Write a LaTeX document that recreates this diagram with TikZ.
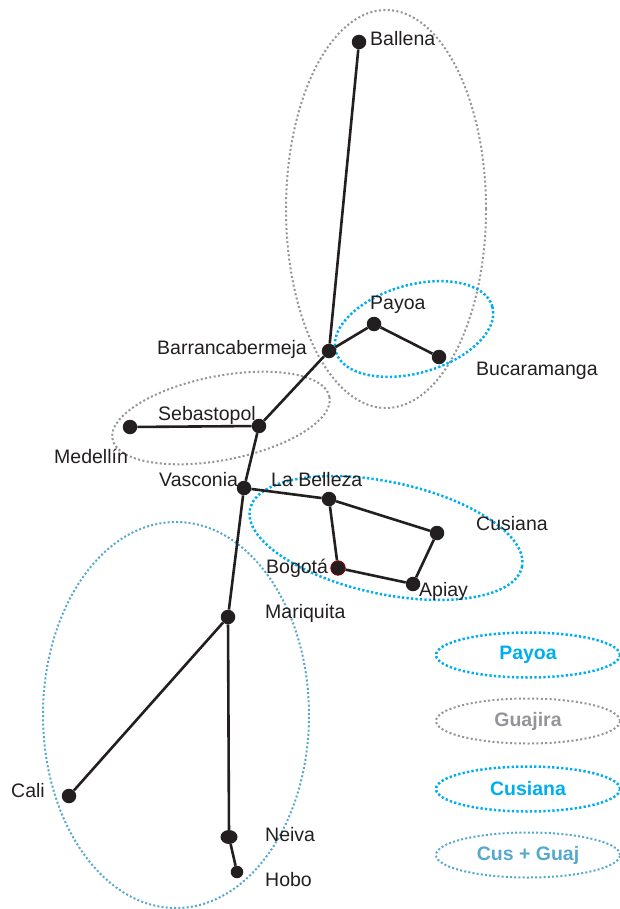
\documentclass[tikz,border=0pt]{standalone}
\usepackage{fontspec}
\setmainfont{Liberation Sans}
\usetikzlibrary{shapes.geometric}
\definecolor{cyanP}{RGB}{0,174,239}
\definecolor{grayG}{RGB}{147,149,152}
\definecolor{blueCG}{RGB}{86,168,204}
\definecolor{nodeblk}{RGB}{35,31,32}
\tikzset{
  city/.style={circle, fill=nodeblk, inner sep=0pt, minimum size=14.5pt},
  lbl/.style={anchor=base west, inner sep=0pt, text=nodeblk, font=\fontsize{19.5}{23}\selectfont},
  lblr/.style={anchor=base east, inner sep=0pt, text=nodeblk, font=\fontsize{19.5}{23}\selectfont},
  link/.style={line width=2.6pt, draw=nodeblk},
  cyandots/.style={draw=cyanP, line width=2.5pt, dash pattern=on 2.3pt off 2.2pt},
  graydots/.style={draw=grayG, line width=2pt, dash pattern=on 2pt off 2.4pt},
  bluedots/.style={draw=blueCG, line width=2pt, dash pattern=on 2pt off 2.2pt},
  legend/.style={ellipse, inner sep=0pt, minimum width=184pt, minimum height=45pt,
    font=\bfseries\fontsize{19.5}{23}\selectfont},
}
\begin{document}
\begin{tikzpicture}[x=1pt,y=-1pt]
\useasboundingbox (0,0) rectangle (620,909);
% region ellipses
\draw[graydots, shift={(386,209)}] (0,0) ellipse [x radius=100pt, y radius=199pt];
\draw[cyandots, shift={(414,329)}, rotate=16] (0,0) ellipse [x radius=81.5pt, y radius=44pt];
\draw[graydots, shift={(221,418)}, rotate=11] (0,0) ellipse [x radius=110.5pt, y radius=42pt];
\draw[cyandots, shift={(386,538)}, rotate=-12] (0,0) ellipse [x radius=139pt, y radius=56pt];
\draw[bluedots, shift={(176,715)}] (0,0) ellipse [x radius=133pt, y radius=193pt];
% cities
\node[city] (ballena) at (359,42) {};
\node[city] (payoa) at (374,324) {};
\node[city] (bucaramanga) at (439,357) {};
\node[city] (barranca) at (329,351) {};
\node[city] (sebastopol) at (259,426) {};
\node[city] (medellin) at (130,427) {};
\node[city] (vasconia) at (244,488) {};
\node[city] (labelleza) at (329,499) {};
\node[city] (cusiana) at (437,533) {};
\node[city, draw=red!55!black, line width=0.8pt] (bogota) at (338,568) {};
\node[city] (apiay) at (413,584) {};
\node[city] (mariquita) at (228,617) {};
\node[city] (cali) at (69,796) {};
\node[city, ellipse, minimum width=17pt, minimum height=14pt] (neiva) at (229,837) {};
\node[city, minimum size=12.5pt] (hobo) at (237,872) {};
% links
\draw[link] (ballena) -- (barranca);
\draw[link] (barranca) -- (payoa);
\draw[link] (payoa) -- (bucaramanga);
\draw[link] (barranca) -- (sebastopol);
\draw[link] (sebastopol) -- (medellin);
\draw[link] (sebastopol) -- (vasconia);
\draw[link] (vasconia) -- (labelleza);
\draw[link] (labelleza) -- (cusiana);
\draw[link] (labelleza) -- (bogota);
\draw[link] (bogota) -- (apiay);
\draw[link] (apiay) -- (cusiana);
\draw[link] (vasconia) -- (mariquita);
\draw[link] (mariquita) -- (cali);
\draw[link] (mariquita) -- (neiva);
\draw[link] (neiva) -- (hobo);
% labels
\node[lbl] (tBallena) at (370,46) {Ballena};
\node[lbl] (tPayoa) at (370,309) {Payoa};
\node[lblr] (tBarranca) at (307,354) {Barrancabermeja};
\node[lbl] (tBucaramanga) at (476,375) {Bucaramanga};
\node[lbl] (tSebastopol) at (158,420) {Sebastopol};
\node[lbl] (tMedellin) at (54,463) {Medellín};
\node[lbl] (tVasconia) at (159,486) {Vasconia};
\node[lbl] (tLaBelleza) at (271,486) {La Belleza};
\node[lbl] (tCusiana) at (476,530) {Cusiana};
\node[lbl] (tBogota) at (266,573) {Bogotá};
\node[lbl] (tApiay) at (419,596) {Apiay};
\node[lbl] (tMariquita) at (265,618) {Mariquita};
\node[lblr] (tCali) at (45,797) {Cali};
\node[lbl] (tNeiva) at (265,841) {Neiva};
\node[lbl] (tHobo) at (265,886) {Hobo};
% legend
\node[legend, cyandots, text=cyanP] (legPayoa) at (528,655) {Payoa};
\node[legend, graydots, text=grayG] (legGuajira) at (528,721) {Guajira};
\node[legend, cyandots, text=cyanP] (legCusiana) at (528,789) {Cusiana};
\node[legend, bluedots, text=blueCG] (legCusGuaj) at (528,855) {Cus + Guaj};
\end{tikzpicture}
\end{document}
